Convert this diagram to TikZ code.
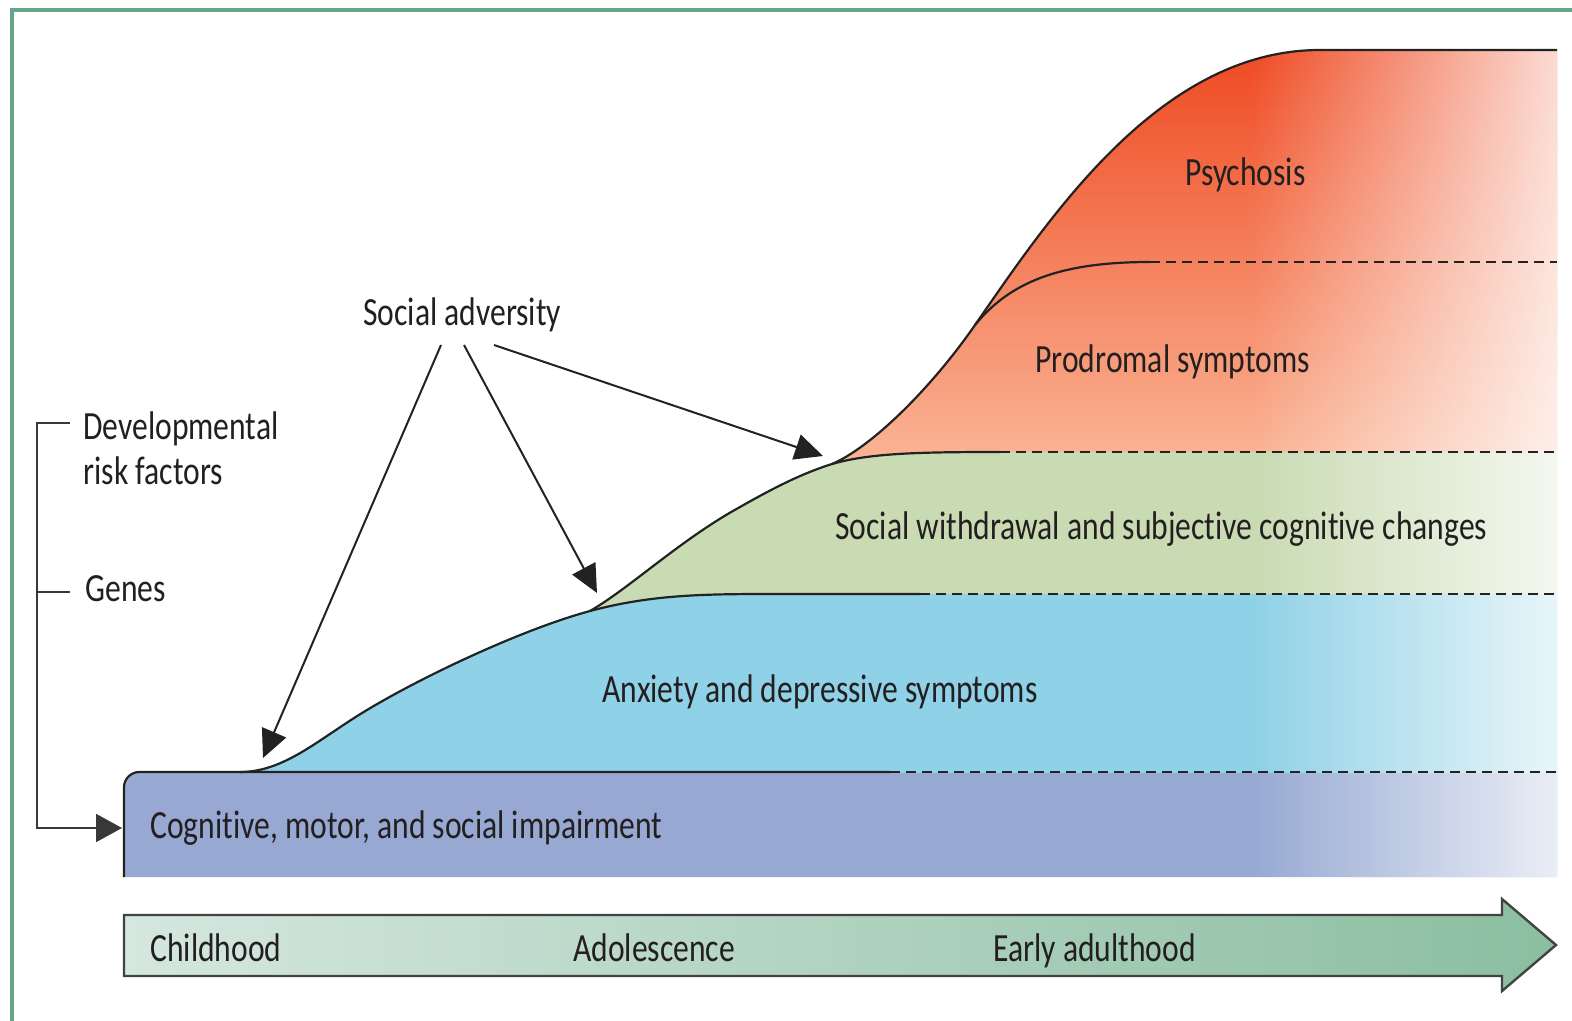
\documentclass[tikz,border=0pt]{standalone}
\usepackage{fontspec}
\setmainfont{Carlito}[FakeStretch=0.79, RawFeature={-liga;-clig}]
\usetikzlibrary{arrows.meta,fadings}
\tikzfading[name=rfade, left color=transparent!100, right color=transparent!20]
\definecolor{txt}{HTML}{231F20}
\definecolor{ln}{HTML}{222222}
\definecolor{boxc}{HTML}{97A9D3}
\definecolor{bluc}{HTML}{8FD1E6}
\definecolor{grnc}{HTML}{C9DBB2}
\definecolor{redtop}{HTML}{EF4A22}
\definecolor{redmid}{HTML}{F6855C}
\definecolor{redbot}{HTML}{FAB596}
\definecolor{tlone}{HTML}{D5E7DF}
\definecolor{tltwo}{HTML}{8BBEA0}
\definecolor{bord}{HTML}{64A788}
\begin{document}
\begin{tikzpicture}[x=0.5pt,y=-0.5pt,
  lbl/.style={anchor=base west, inner sep=0pt, font=\fontsize{20}{23}\selectfont, text=txt},
  edge/.style={draw=ln, line width=1.1pt},
  dashline/.style={draw=ln, line width=1.1pt, dash pattern=on 5pt off 3pt},
  arr/.style={draw=ln, line width=1pt, -{Triangle[length=14pt,width=13pt]}},
  brk/.style={draw=ln!90!white, line width=1pt},
  border/.style={draw=bord, line width=1.6pt}]
\useasboundingbox (0,0) rectangle (1572,1021);

% frame
\draw[border] (12,1021) -- (12,10) -- (1572,10);

% cognitive box
\fill[boxc] (124,877) -- (124,787) .. controls (124,779) and (131,772) .. (139,772) -- (1557,772) -- (1557,877) -- cycle;
% anxiety (blue)
\fill[bluc] (240,772) .. controls (285,772) and (320,738) .. (367,710) .. controls (420,678) and (520,630) .. (590,611) .. controls (650,595) and (700,594) .. (770,594) -- (1557,594) -- (1557,773) -- (240,773) -- cycle;
% social withdrawal (green)
\fill[grnc] (590,611) .. controls (630,588) and (680,540) .. (740,507) .. controls (770,490) and (800,474) .. (832,464) .. controls (870,453) and (920,452) .. (1000,452) -- (1557,452) -- (1557,594) -- (770,594) .. controls (700,594) and (650,595) .. (590,611) -- cycle;
% prodromal + psychosis
\shade[top color=redtop, middle color=redmid, bottom color=redbot]
  (832,464) .. controls (870,448) and (930,390) .. (975,325)
  .. controls (1050,217) and (1160,50) .. (1320,50)
  -- (1557,50) -- (1557,452) -- (1000,452)
  .. controls (920,452) and (870,453) .. (832,464) -- cycle;
% right fade
\fill[white, path fading=rfade] (1250,48) rectangle (1557,877);

% outlines
\draw[edge] (240,772) .. controls (285,772) and (320,738) .. (367,710) .. controls (420,678) and (520,630) .. (590,611)
  .. controls (630,588) and (680,540) .. (740,507) .. controls (770,490) and (800,474) .. (832,464)
  .. controls (870,448) and (930,390) .. (975,325)
  .. controls (1050,217) and (1160,50) .. (1320,50) -- (1557,50);
\draw[edge] (590,611) .. controls (650,595) and (700,594) .. (770,594) -- (920,594);
\draw[dashline] (920,594) -- (1557,594);
\draw[edge] (832,464) .. controls (870,453) and (920,452) .. (1000,452);
\draw[dashline] (1000,452) -- (1557,452);
\draw[edge] (975,325) .. controls (1010,282) and (1060,262) .. (1150,262);
\draw[dashline] (1150,262) -- (1557,262);
\draw[edge] (124,877) -- (124,787) .. controls (124,779) and (131,772) .. (139,772) -- (890,772);
\draw[dashline] (890,772) -- (1557,772);

% timeline arrow
\shadedraw[left color=tlone, right color=tltwo, draw=ln!85!white, line width=1.2pt]
  (124,915) -- (1502,915) -- (1502,899) -- (1556,945) -- (1502,991) -- (1502,976) -- (124,976) -- cycle;

% labels
\node[lbl] (psy) at (1185,186) {Psychosis};
\node[lbl] (pro) at (1035,372) {Prodromal symptoms};
\node[lbl] (soc) at (835,539) {Social withdrawal and subjective cognitive changes};
\node[lbl] (anx) at (602,702) {Anxiety and depressive symptoms};
\node[lbl] (cog) at (150,838) {Cognitive, motor, and social impairment};
\node[lbl] (adv) at (363,326) {Social adversity};
\node[lbl] (devA) at (83,439) {Developmental};
\node[lbl] (devB) at (83,484) {risk factors};
\node[lbl] (gen) at (85,601) {Genes};
\node[lbl] (ch) at (150,961) {Childhood};
\node[lbl] (ado) at (573,961) {Adolescence};
\node[lbl] (ea) at (993,961) {Early adulthood};

% social adversity arrows
\coordinate (s1) at (441,345);
\coordinate (s2) at (464,345);
\coordinate (s3) at (494,345);
\coordinate (t1) at (263,758);
\coordinate (t2) at (597,593);
\coordinate (t3) at (823,456);
\draw[arr] (s1) -- (t1);
\draw[arr] (s2) -- (t2);
\draw[arr] (s3) -- (t3);

% bracket
\coordinate (bA) at (70,423);
\coordinate (bB) at (37,423);
\coordinate (bC) at (37,828);
\coordinate (bD) at (122,828);
\coordinate (gA) at (37,592);
\coordinate (gB) at (70,592);
\draw[brk, -{Triangle[length=13pt,width=14pt]}] (bA) -- (bB) -- (bC) -- (bD);
\draw[brk] (gA) -- (gB);
\end{tikzpicture}
\end{document}
